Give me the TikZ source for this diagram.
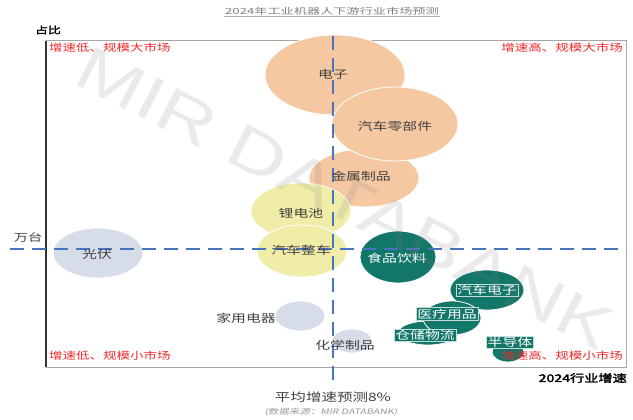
\documentclass[tikz,border=0pt]{standalone}
\usepackage{fontspec}
\usetikzlibrary{shapes.geometric}
\newfontfamily\cjk[FakeStretch=1.35]{Noto Sans CJK SC}
\newfontfamily\cjkb[FakeStretch=1.35,FakeBold=2.5]{Noto Sans CJK SC}
\newfontfamily\cjkt[FakeStretch=1.55]{Noto Sans CJK SC}
\newfontfamily\cjki[FakeStretch=1.4,FakeSlant=0.2]{Noto Sans CJK SC}
\newfontfamily\wmfont{Liberation Sans}
\definecolor{peach}{RGB}{245,200,162}
\definecolor{lemon}{RGB}{240,237,168}
\definecolor{mist}{RGB}{214,221,232}
\definecolor{tealc}{RGB}{18,118,104}
\definecolor{dashblue}{RGB}{72,115,190}
\definecolor{qred}{RGB}{240,40,40}
\definecolor{txt}{RGB}{64,64,64}
\tikzset{
  bubble/.style={ellipse, draw=white, line width=0.8pt, inner sep=0pt},
  lbl/.style={font=\cjk\fontsize{11}{13}\selectfont, text=txt, inner sep=1pt},
  wlbl/.style={lbl, text=white},
  tlbl/.style={lbl, text=white, fill=tealc, draw=white!75!tealc, line width=0.4pt, inner sep=1.2pt},
  quad/.style={font=\cjk\fontsize{10}{12}\selectfont, text=qred, inner sep=0pt},
  avgline/.style={dashblue, line width=1.8pt, dash pattern=on 14pt off 8pt},
}
\begin{document}
\begin{tikzpicture}[x=1pt,y=-1pt]
\useasboundingbox[fill=white] (0,0) rectangle (633,420);
% title
\node[font=\cjkt\fontsize{8.5}{10}\selectfont, text=gray, inner sep=1pt] (title) at (332,11) {2024年工业机器人下游行业市场预测};
\draw[gray!60, line width=0.6pt] (title.south west) -- (title.south east);
% frame
\draw[gray!70, line width=1pt] (46,41) rectangle (626,367);
\draw[black!80, line width=1.4pt] (46,41) -- (46,367);
% bubbles
\node[bubble, fill=peach, minimum width=140pt, minimum height=80pt] (dz) at (335,75) {};
\node[bubble, fill=peach, minimum width=110pt, minimum height=58pt] (jszp) at (364,178) {};
\node[bubble, fill=peach, minimum width=126pt, minimum height=74pt] (qclbj) at (395,124) {};
\node[bubble, fill=lemon, minimum width=100pt, minimum height=56pt] (ldc) at (301,211) {};
\node[bubble, fill=lemon, minimum width=90pt, minimum height=52pt] (qczc) at (302,251) {};
\node[bubble, fill=mist, minimum width=90pt, minimum height=50pt] (gf) at (98,253) {};
\node[bubble, fill=mist, minimum width=50pt, minimum height=30pt] (jydq) at (300,316) {};
\node[bubble, fill=mist, minimum width=40pt, minimum height=24pt] (hxzp) at (352,341) {};
\node[bubble, fill=tealc, minimum width=76pt, minimum height=52pt] (spyl) at (398,257) {};
\node[bubble, fill=tealc, minimum width=74pt, minimum height=40pt] (qcdz) at (487,290) {};
\node[bubble, fill=tealc, minimum width=60pt, minimum height=24pt] (ccwl) at (428,333) {};
\node[bubble, fill=tealc, minimum width=58pt, minimum height=34pt] (ylyp) at (452,318) {};
\node[bubble, fill=tealc, minimum width=32pt, minimum height=20pt] (bdt) at (508,352) {};
% dashed average lines
\coordinate (vtop) at (333,36);
\coordinate (vbot) at (333,388);
\coordinate (hl) at (10,249);
\coordinate (hr) at (626,249);
\draw[avgline] (vtop) -- (vbot);
\draw[avgline] (hl) -- (hr);
% bubble labels
\node[lbl] (tdz) at (333,74) {电子};
\node[lbl] (tqclbj) at (395,126) {汽车零部件};
\node[lbl] (tjszp) at (361,176) {金属制品};
\node[lbl] (tldc) at (301,213) {锂电池};
\node[lbl] (tqczc) at (301,250) {汽车整车};
\node[lbl] (tgf) at (97,254) {光伏};
\node[lbl] (tjydq) at (246,318) {家用电器};
\node[lbl] (thxzp) at (345,345) {化学制品};
\node[wlbl] (tspyl) at (397,258) {食品饮料};
\node[tlbl] (tqcdz) at (487,290) {汽车电子};
\node[tlbl] (tylyp) at (447,314) {医疗用品};
\node[tlbl] (tccwl) at (425,335) {仓储物流};
\node[tlbl] (tbdt) at (510,342) {半导体};
% quadrant labels
\node[quad, anchor=west] (q1) at (49,48) {增速低、规模大市场};
\node[quad, anchor=east] (q2) at (623,48) {增速高、规模大市场};
\node[quad, anchor=west] (q3) at (49,356) {增速低、规模小市场};
\node[quad, anchor=east] (q4) at (623,356) {增速高、规模小市场};
% axis texts
\node[font=\cjkb\fontsize{9.5}{11}\selectfont, inner sep=0pt] (ylab) at (48,30) {占比};
\node[font=\cjk\fontsize{10.5}{12}\selectfont, text=txt, inner sep=0pt] (yunit) at (28,237) {万台};
\node[font=\cjkb\fontsize{10.5}{12}\selectfont, anchor=east, inner sep=0pt] (xlab) at (627,378) {2024行业增速};
\node[font=\cjk\fontsize{11.5}{13}\selectfont, text=txt, inner sep=0pt] (avg) at (333,397) {平均增速预测8\%};
\node[font=\cjki\fontsize{7.5}{9}\selectfont, text=gray!80, inner sep=0pt] (src) at (331,412) {(数据来源：MIR DATABANK)};
% watermark
\node[rotate=-27, xscale=1.3, text=gray, opacity=0.16, font=\wmfont\fontsize{62}{62}\selectfont, inner sep=0pt] (wm) at (345,198) {MIR DATABANK};
\end{tikzpicture}
\end{document}
